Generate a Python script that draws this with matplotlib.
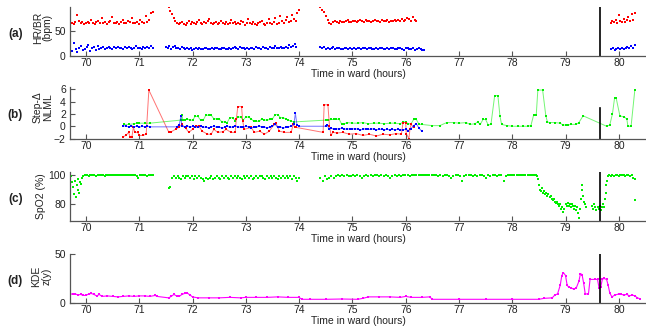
import numpy as np
import matplotlib.pyplot as plt

plt.rcParams['font.family'] = ['Liberation Sans', 'DejaVu Sans']

# ---- heart rate / breathing rate (bpm), evenly sampled within each recording span
hr_spans = [(69.70, 71.25), (71.55, 74.00), (74.40, 76.20), (79.85, 80.30)]
hr_seg1 = [64, 66, 63, 68, 82, 70, 65, 67, 64, 66, 68, 65, 72, 66, 64, 67, 69, 65, 75, 66,
           68, 64, 67, 70, 78, 66, 65, 68, 64, 67, 72, 66, 65, 69, 67, 76, 65, 66, 68, 64,
           71, 67, 66, 80, 68, 72, 85, 88]
hr_seg2 = [97, 90, 84, 76, 70, 66, 63, 65, 68, 64, 62, 66, 70, 64, 67, 65, 63, 68, 72, 66,
           64, 67, 65, 69, 74, 66, 63, 65, 68, 64, 66, 70, 65, 63, 67, 64, 66, 72, 65, 68,
           63, 66, 64, 69, 67, 62, 65, 74, 66, 64, 68, 63, 61, 65, 67, 70, 64, 62, 66, 73,
           65, 63, 68, 76, 64, 66, 80, 70, 65, 72, 78, 67, 69, 82, 74, 70, 86, 91]
hr_seg3 = [97, 92, 88, 80, 72, 66, 64, 67, 69, 68, 66, 70, 68, 67, 69, 71, 68, 67, 70, 69,
           68, 70, 72, 69, 68, 71, 70, 69, 68, 70, 71, 69, 70, 68, 72, 70, 69, 71, 68, 70,
           69, 72, 70, 71, 69, 73, 70, 72, 76, 74, 70, 78, 72, 70]
hr_seg4 = [66, 70, 68, 72, 65, 82, 70, 68, 74, 67, 71, 78, 69, 84, 72, 86]

br_spans = [(69.70, 71.25), (71.50, 73.95), (74.40, 76.35), (79.85, 80.30)]
br_seg1 = [12, 10, 25, 14, 8, 16, 20, 11, 13, 18, 22, 9, 15, 17, 12, 19, 14, 16, 18, 13,
           15, 17, 16, 14, 18, 15, 17, 16, 15, 14, 18, 16, 17, 15, 14, 16, 19, 15, 16, 14,
           18, 16, 17, 15, 19, 16]
br_seg2 = [18, 16, 20, 14, 17, 19, 15, 16, 13, 18, 15, 14, 16, 13, 15, 12, 14, 16, 13, 15,
           14, 13, 15, 16, 14, 13, 15, 14, 16, 15, 13, 14, 16, 15, 14, 13, 15, 14, 16, 18,
           15, 14, 17, 15, 16, 14, 15, 13, 16, 15, 14, 17, 15, 16, 14, 18, 15, 16, 14, 17,
           16, 15, 20, 16, 15, 17, 16, 15, 18, 16, 22, 17, 19, 24, 18]
br_seg3 = [17, 15, 18, 13, 16, 14, 15, 17, 14, 16, 15, 13, 14, 16, 15, 14, 15, 13, 16, 14,
           15, 15, 14, 16, 15, 14, 15, 16, 14, 13, 15, 14, 16, 15, 14, 13, 15, 14, 16, 15,
           13, 14, 15, 16, 14, 12, 15, 16, 14, 13, 15, 12, 14, 16, 13, 11, 12]
br_seg4 = [13, 15, 12, 14, 16, 13, 15, 14, 16, 18, 15, 20, 16, 22]

# ---- step-delta NLML per model
nlml_red = [(70.70, -1.7), (70.75, -1.5), (70.80, -1.0), (70.83, -1.8), (70.86, -1.8),
            (70.89, -0.2), (70.92, -1.0), (70.97, -1.0), (71.00, -1.5), (71.07, -1.5),
            (71.13, -1.3), (71.18, 5.9), (71.55, -0.9), (71.60, -0.9), (71.68, -0.5),
            (71.74, -0.2), (71.80, 0.3), (71.87, -0.3), (71.93, -1.0), (72.00, -0.5),
            (72.06, 0.1), (72.12, 0.0), (72.18, -0.8), (72.28, -1.3), (72.35, -1.3),
            (72.40, -0.5), (72.47, -1.0), (72.57, -0.9), (72.63, -0.5), (72.72, -1.0),
            (72.80, -1.0), (72.82, 1.1), (72.85, 3.2), (72.92, 3.2), (72.94, 0.9),
            (72.97, -0.5), (73.10, -0.2), (73.16, -1.0), (73.26, -0.8), (73.35, -1.3),
            (73.44, -0.8), (73.53, 0.3), (73.56, 0.6), (73.63, -0.8), (73.72, -1.0),
            (73.85, -1.0), (73.89, 0.3), (73.92, -0.1), (73.95, -0.2), (74.45, -1.0),
            (74.47, 3.5), (74.54, 3.5), (74.57, 0.0), (74.60, -1.5), (74.63, -1.0),
            (74.72, -1.1), (74.82, -1.0), (74.94, -1.3), (75.07, -1.2), (75.20, -1.5),
            (75.32, -1.3), (75.45, -1.6), (75.57, -1.3), (75.70, -1.4), (75.82, -1.2),
            (75.92, -1.3), (75.95, 0.6), (76.00, 0.6), (76.01, -1.2), (76.06, -2.0),
            (76.08, -0.5), (76.10, 0.3), (76.15, -0.2)]
nlml_blue = [(70.70, 0.1), (70.75, 0.0), (70.80, -0.1), (70.85, 0.1), (70.90, -0.1),
             (70.95, 0.0), (71.00, -0.2), (71.05, 0.0), (71.10, -0.1), (71.15, 0.0),
             (71.20, -0.1), (71.70, -0.1), (71.75, 0.2), (71.78, 1.6), (71.80, 0.0),
             (71.85, -0.1), (71.90, 0.1), (71.95, -0.2), (72.00, 0.0), (72.05, -0.2),
             (72.10, -0.1), (72.15, 0.0), (72.20, -0.2), (72.25, -0.1), (72.30, -0.3),
             (72.35, -0.1), (72.40, 0.0), (72.45, -0.2), (72.50, -0.1), (72.55, -0.3),
             (72.60, -0.2), (72.65, 0.0), (72.70, -0.2), (72.75, -0.1), (72.80, 0.1),
             (72.85, -0.2), (72.90, -0.1), (72.95, -0.2), (73.00, 0.0), (73.05, -0.1),
             (73.10, -0.3), (73.15, -0.1), (73.20, -0.2), (73.25, 0.1), (73.30, -0.2),
             (73.35, -0.1), (73.40, -0.3), (73.45, -0.1), (73.50, 0.0), (73.55, 0.3),
             (73.60, -0.2), (73.65, -0.1), (73.70, -0.3), (73.75, -0.2), (73.80, -0.1),
             (73.85, 0.0), (73.90, 0.3), (73.93, 2.1), (73.96, 0.2), (74.00, 0.0),
             (74.50, 0.0), (74.53, 0.2), (74.56, -0.5), (74.60, -0.3), (74.65, -0.5),
             (74.70, -0.4), (74.75, -0.5), (74.80, -0.3), (74.85, -0.5), (74.90, -0.4),
             (74.95, -0.5), (75.00, -0.4), (75.05, -0.5), (75.10, -0.4), (75.15, -0.6),
             (75.20, -0.5), (75.25, -0.4), (75.30, -0.5), (75.35, -0.5), (75.40, -0.4),
             (75.45, -0.6), (75.50, -0.5), (75.55, -0.5), (75.60, -0.6), (75.65, -0.5),
             (75.70, -0.6), (75.75, -0.5), (75.80, -0.6), (75.85, -0.5), (75.90, -0.6),
             (75.95, -0.6), (76.00, -0.5), (76.05, -0.7), (76.10, -0.4), (76.15, 0.1),
             (76.20, 0.4), (76.25, -0.3), (76.30, -0.8)]
nlml_green = [(70.72, 0.3), (70.80, 0.3), (70.90, 0.4), (70.95, 0.5), (71.00, 0.5),
              (71.10, 0.5), (71.20, 0.5), (71.78, 1.0), (71.80, 1.8), (71.82, 1.0),
              (71.85, 1.0), (71.90, 1.2), (71.95, 1.0), (72.00, 1.0), (72.05, 1.6),
              (72.10, 1.6), (72.15, 1.0), (72.20, 1.0), (72.25, 1.8), (72.30, 1.8),
              (72.35, 1.8), (72.40, 1.2), (72.45, 1.2), (72.50, 1.2), (72.55, 0.7),
              (72.60, 0.7), (72.65, 0.6), (72.70, 1.4), (72.75, 1.4), (72.80, 0.9),
              (72.85, 1.5), (72.90, 1.5), (72.95, 1.0), (73.00, 1.5), (73.05, 1.5),
              (73.10, 1.2), (73.15, 0.8), (73.20, 0.8), (73.25, 0.8), (73.30, 1.2),
              (73.35, 1.0), (73.40, 1.0), (73.45, 1.1), (73.50, 1.2), (73.55, 1.9),
              (73.60, 1.9), (73.65, 1.4), (73.70, 1.4), (73.75, 1.2), (73.80, 1.0),
              (73.85, 0.8), (73.90, 0.7), (74.50, 1.0), (74.55, 1.0), (74.60, 1.1),
              (74.65, 1.1), (74.70, 1.1), (74.75, 1.2), (74.80, 0.3), (74.85, 0.4),
              (74.90, 0.6), (75.00, 0.5), (75.10, 0.5), (75.20, 0.6), (75.30, 0.4),
              (75.40, 0.5), (75.50, 0.5), (75.60, 0.4), (75.70, 0.5), (75.80, 0.5),
              (75.90, 0.4), (75.95, 0.7), (76.00, 0.7), (76.05, 0.4), (76.10, 0.4),
              (76.15, 1.1), (76.20, 1.1), (76.25, 0.3), (76.30, 0.3), (76.50, 0.1),
              (76.64, 0.1), (76.77, 0.6), (76.90, 0.6), (77.00, 0.5), (77.14, 0.6),
              (77.20, 0.3), (77.30, 0.4), (77.35, 0.7), (77.40, 0.3), (77.45, 1.1),
              (77.50, 1.1), (77.55, 0.2), (77.60, 0.3), (77.67, 5.0), (77.73, 5.0),
              (77.77, 1.6), (77.80, 0.3), (77.90, 0.1), (78.00, 0.0), (78.10, 0.0),
              (78.20, 0.0), (78.30, 0.0), (78.35, 0.1), (78.40, 1.8), (78.45, 1.8),
              (78.48, 5.9), (78.57, 5.9), (78.63, 1.7), (78.66, 0.7), (78.70, 0.6),
              (78.80, 0.6), (78.90, 0.5), (78.95, 0.2), (79.00, 0.2), (79.05, 0.2),
              (79.10, 0.3), (79.20, 0.3), (79.25, 0.6), (79.33, 1.7), (79.77, 0.0),
              (79.83, 0.2), (79.88, 2.0), (79.92, 4.6), (79.95, 4.6), (80.02, 1.7),
              (80.10, 1.5), (80.15, 1.2), (80.17, 0.0), (80.23, 0.0), (80.30, 5.9)]

# ---- SpO2 (%)
spo_spans = [(69.70, 69.93), (69.95, 71.25), (71.55, 74.00), (74.40, 78.45), (79.85, 80.30)]
spo_seg1 = [97, 99, 95, 92, 87, 96, 85, 93, 90, 97, 88, 95, 94, 98]
spo_seg2 = [99, 100, 100, 99, 100, 100, 100, 99, 100, 100, 100, 100, 99, 100, 100, 100,
            100, 100, 100, 100, 100, 100, 100, 100, 100, 100, 100, 100, 100, 100, 99, 98,
            100, 100, 100, 100, 99, 100, 100, 100]
spo_seg3 = [91, 92, 98, 99, 98, 99, 98, 97, 99, 98, 99, 99, 98, 99, 97, 99, 98, 99, 98, 97,
            96, 98, 97, 98, 99, 97, 98, 99, 98, 97, 99, 98, 99, 98, 97, 99, 98, 99, 98, 99,
            98, 97, 99, 98, 99, 98, 99, 97, 98, 99, 98, 99, 99, 98, 97, 99, 98, 99, 98, 99,
            98, 97, 99, 98, 99, 98, 99, 98, 99, 97, 99, 98, 96, 98]
spo_seg4 = [98, 96, 99, 97, 98, 99, 98, 99, 100, 99, 100, 99, 100, 99, 99, 100, 99, 100, 99, 98,
            99, 100, 99, 100, 99, 100, 100, 99, 100, 99, 100, 99, 98, 99, 100, 99, 100, 99, 100, 100,
            100, 99, 100, 100, 100, 100, 100, 100, 100, 100, 100, 100, 100, 100, 99, 100, 99, 100, 100, 99,
            98, 99, 100, 100, 99, 96, 99, 100, 100, 100, 99, 100, 99, 100, 100, 99, 98, 100, 99, 100,
            100, 99, 100, 100, 96, 99, 100, 100, 100, 100, 100, 100, 100, 100, 100, 100, 100, 100, 100, 100]
spo_seg5 = [99, 100, 99, 100, 100, 99, 100, 100, 100, 99, 100, 100, 99, 100, 98, 97]
spo_desat = [(78.46, 99), (78.48, 97), (78.50, 93), (78.52, 90), (78.54, 89), (78.56, 91),
             (78.58, 88), (78.60, 89), (78.62, 87), (78.64, 88), (78.66, 86), (78.68, 87),
             (78.70, 85), (78.72, 86), (78.74, 84), (78.76, 83), (78.78, 84), (78.80, 82),
             (78.82, 81), (78.84, 82), (78.86, 80), (78.88, 79), (78.90, 80), (78.92, 77),
             (78.94, 78), (78.96, 75), (78.98, 77), (79.00, 80), (79.02, 79), (79.04, 81),
             (79.06, 79), (79.08, 80), (79.10, 78), (79.12, 80), (79.14, 79), (79.16, 77),
             (79.18, 79), (79.20, 76), (79.22, 78), (79.24, 74), (79.26, 71), (79.28, 77),
             (79.29, 84), (79.30, 90), (79.31, 93), (79.33, 86), (79.35, 82), (79.37, 80),
             (79.39, 78), (79.50, 79), (79.52, 77), (79.54, 80), (79.56, 78), (79.58, 76),
             (79.60, 78), (79.62, 77), (79.64, 79), (79.66, 76), (79.68, 78), (79.70, 80),
             (79.72, 78), (79.74, 84), (79.75, 88), (79.76, 93), (79.78, 96), (79.80, 99),
             (79.82, 100), (80.30, 83)]

# ---- KDE z(y)
kde = [(69.70, 9.5), (69.75, 8.5), (69.80, 9), (69.85, 8), (69.90, 8.5), (69.95, 7.5),
       (70.00, 7.5), (70.05, 9), (70.10, 9.5), (70.15, 8.5), (70.20, 7), (70.25, 8.5),
       (70.30, 6.5), (70.40, 7), (70.50, 6.5), (70.60, 6), (70.70, 6.5), (70.80, 7),
       (70.90, 6.5), (71.00, 7), (71.10, 7), (71.20, 6.5), (71.30, 7.5), (71.33, 6.5),
       (71.55, 5), (71.60, 6.5), (71.65, 8.5), (71.70, 7), (71.75, 6.5), (71.80, 8.5),
       (71.85, 9.5), (71.90, 10), (71.95, 8), (72.00, 6), (72.10, 5), (72.30, 5),
       (72.50, 5), (72.70, 5.5), (72.90, 5), (73.00, 5.5), (73.20, 5.5), (73.40, 5.5),
       (73.60, 6), (73.80, 5.5), (74.00, 5.5), (74.05, 3.5), (74.20, 3.5), (74.50, 3.5),
       (74.80, 3.8), (75.10, 3.5), (75.20, 4.5), (75.30, 6), (75.50, 6), (75.70, 6),
       (75.90, 5.5), (76.00, 6.5), (76.10, 5.5), (76.30, 5.5), (76.45, 6), (76.50, 3.5),
       (77.00, 3.5), (77.50, 3.5), (78.00, 3.5), (78.50, 3.5), (78.60, 4.5), (78.75, 5),
       (78.80, 8), (78.85, 9), (78.90, 18), (78.93, 28), (78.96, 31), (79.00, 28),
       (79.03, 18), (79.06, 16), (79.10, 15.5), (79.15, 14), (79.20, 15), (79.25, 22),
       (79.28, 30), (79.31, 29), (79.34, 20), (79.37, 9), (79.43, 9), (79.46, 24),
       (79.55, 24), (79.60, 24), (79.63, 15), (79.66, 16), (79.69, 24), (79.72, 25),
       (79.77, 24), (79.80, 18), (79.83, 10), (79.87, 6), (79.93, 8), (80.00, 9),
       (80.05, 8.5), (80.10, 8), (80.15, 8.5), (80.20, 7), (80.25, 8), (80.30, 7),
       (80.35, 5), (80.40, 4)]

event_time = 79.65
x_ticks = list(range(70, 81))

RED, BLUE, GREEN, MAGENTA = '#ff0000', '#0000ff', '#00ee00', '#ff00ff'
AXIS_GREY = '#555555'
TEXT = '#222222'
FS = 7.5


def segments(spans, series):
    for (t0, t1), vals in zip(spans, series):
        yield np.linspace(t0, t1, len(vals)), np.array(vals)


def dots(ax, spans, series, color):
    for t, v in segments(spans, series):
        ax.plot(t, v, 's', ms=1.9, mew=0, color=color)


def style(ax, ylim, yticks, ylabel, tag, label_x, label_y=0.5):
    ax.set_xlim(69.7, 80.51)
    ax.set_ylim(*ylim)
    ax.set_xticks(x_ticks)
    ax.set_yticks(yticks)
    for s in ('top', 'right'):
        ax.spines[s].set_visible(False)
    for s in ('left', 'bottom'):
        ax.spines[s].set_color(AXIS_GREY)
        ax.spines[s].set_linewidth(0.9)
    ax.tick_params(direction='in', length=3.5, width=0.8, colors=AXIS_GREY,
                   labelcolor=TEXT, labelsize=FS)
    ax.tick_params(axis='x', pad=2)
    ax.tick_params(axis='y', pad=3)
    ax.set_xlabel('Time in ward (hours)', fontsize=FS, color=TEXT, labelpad=0.5)
    ax.set_ylabel(ylabel, fontsize=FS, color=TEXT, linespacing=1.0)
    ax.yaxis.set_label_coords(label_x, label_y)
    ax.text(-0.095, 0.45, tag, transform=ax.transAxes, fontsize=8.5,
            fontweight='bold', ha='center', va='center', color=TEXT)


fig = plt.figure(figsize=(6.46, 3.32), dpi=100)
W = 646.0
H = 332.0
left = 70 / W
width = 576 / W
ax_a = fig.add_axes([left, 1 - 55.7 / H, width, 48.7 / H])
ax_b = fig.add_axes([left, 1 - 138.5 / H, width, 51.5 / H])
ax_c = fig.add_axes([left, 1 - 220.7 / H, width, 48.4 / H])
ax_d = fig.add_axes([left, 1 - 302.7 / H, width, 48.5 / H])

# (a) HR / BR
dots(ax_a, hr_spans, [hr_seg1, hr_seg2, hr_seg3, hr_seg4], RED)
dots(ax_a, br_spans, [br_seg1, br_seg2, br_seg3, br_seg4], BLUE)
ax_a.plot([event_time, event_time], [0, 98], color='k', lw=1.2)
style(ax_a, (0, 98), [0, 50], 'HR/BR\n(bpm)', '(a)', -0.03, 0.58)

# (b) step-delta NLML
for pairs, col in ((nlml_green, GREEN), (nlml_red, RED), (nlml_blue, BLUE)):
    t, v = np.array(pairs).T
    ax_b.plot(t, v, '-', color=col, lw=0.7, alpha=0.55)
    ax_b.plot(t, v, 's', color=col, ms=1.6, mew=0)
ax_b.plot([event_time, event_time], [-2, 3], color='k', lw=1.2)
style(ax_b, (-2, 6.4), [-2, 0, 2, 4, 6], 'Step-\u0394\nNLML', '(b)', -0.03, 0.6)

# (c) SpO2
dots(ax_c, spo_spans, [spo_seg1, spo_seg2, spo_seg3, spo_seg4, spo_seg5], GREEN)
t, v = np.array(spo_desat).T
ax_c.plot(t, v, 's', ms=1.9, mew=0, color=GREEN)
ax_c.plot([event_time, event_time], [69, 101.8], color='k', lw=1.2)
style(ax_c, (69, 101.8), [80, 100], 'SpO2 (%)', '(c)', -0.041)

# (d) KDE
t, v = np.array(kde).T
ax_d.plot(t, v, '-', color=MAGENTA, lw=0.8)
ax_d.plot(t, v, 's', color=MAGENTA, ms=1.5, mew=0)
ax_d.plot([event_time, event_time], [0, 50], color='k', lw=1.2)
style(ax_d, (0, 50), [0, 50], 'KDE\nz(y)', '(d)', -0.032, 0.55)

fig.savefig('out.png', dpi=100)
